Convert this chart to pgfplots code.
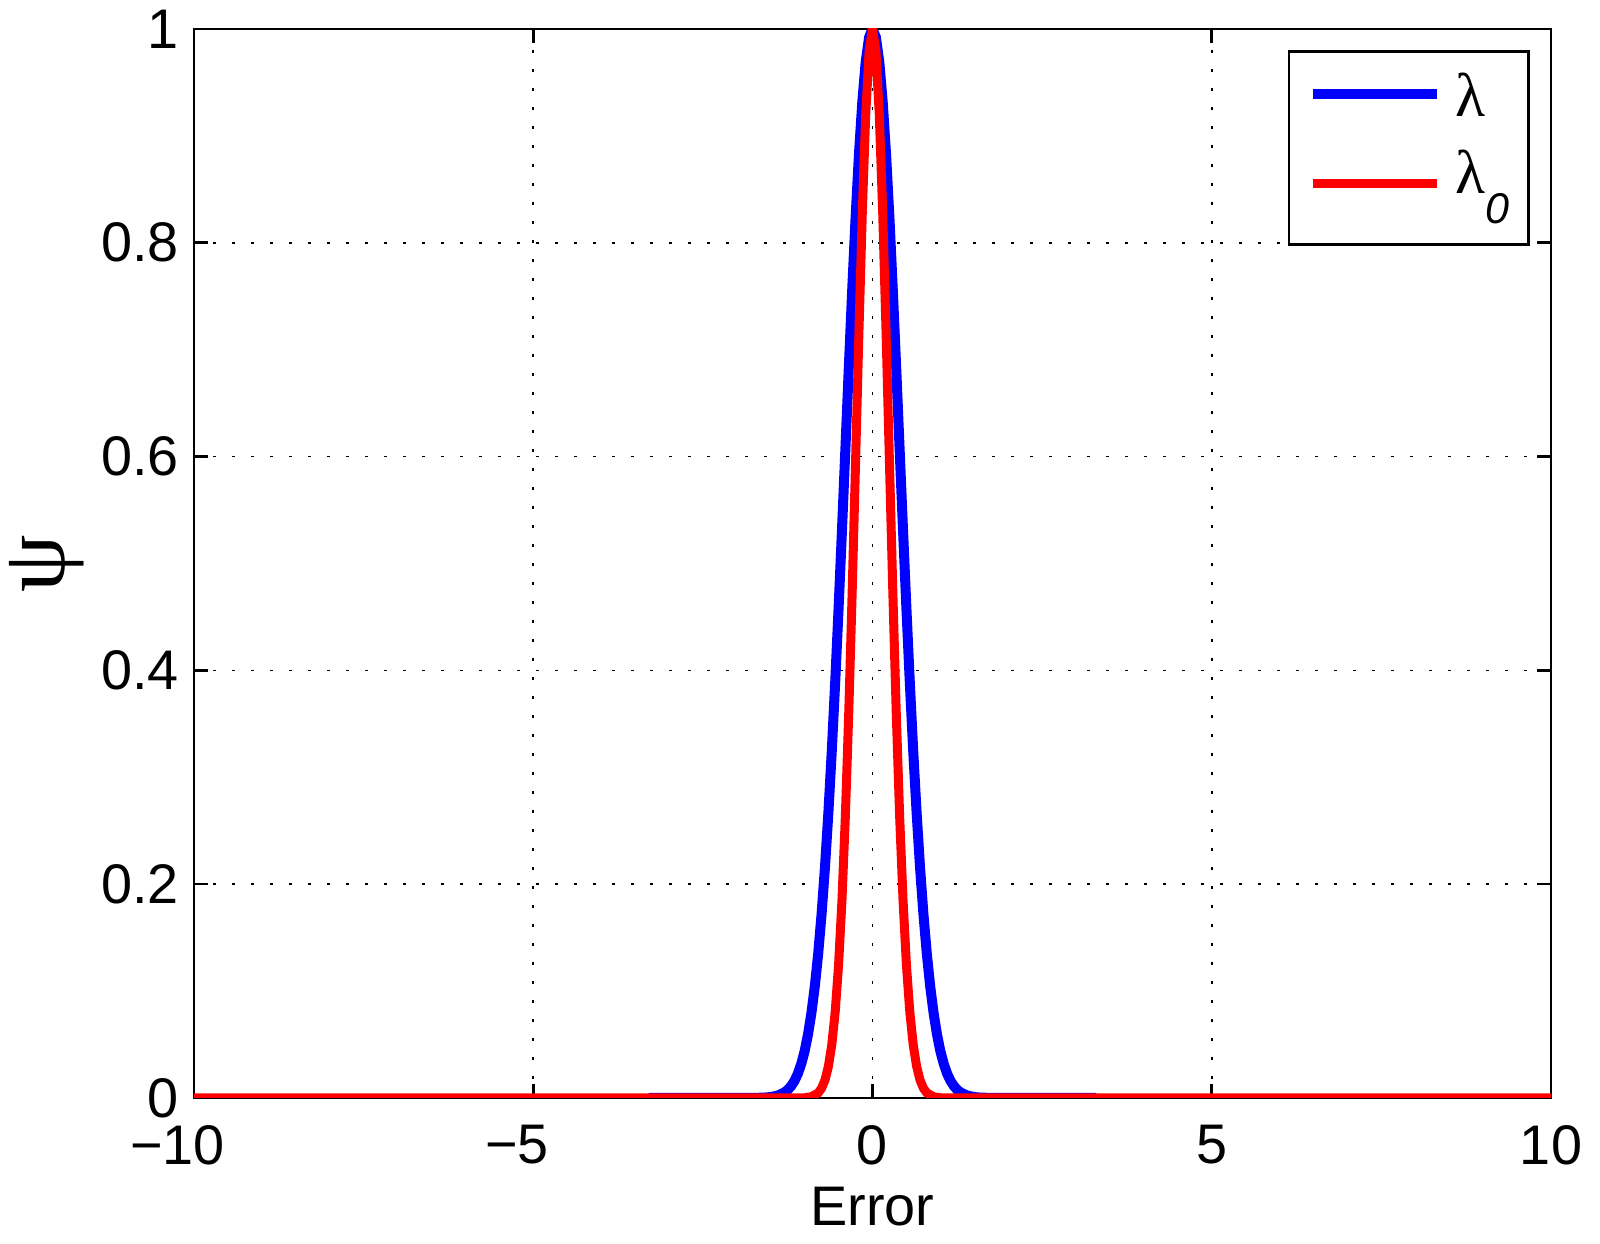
\documentclass[border=0pt]{standalone}
\usepackage{fontspec}
\setmainfont{Liberation Sans}
\newfontfamily\serifgr{Liberation Serif}
\usepackage{pgfplots}
\pgfplotsset{compat=1.18}
\pgfplotsset{
  leglineA/.style={legend image code/.code={\draw[##1] (0bp,11bp) -- (62bp,11bp);}},
  leglineB/.style={legend image code/.code={\draw[##1] (0bp,5bp) -- (62bp,5bp);}},
}
\begin{document}
\begin{tikzpicture}
\useasboundingbox (-97bp,-73bp) rectangle (703bp,549bp);
\begin{axis}[
  at={(0,0)}, anchor=south west,
  scale only axis, width=678.5bp, height=534.5bp,
  xmin=-10, xmax=10, ymin=0, ymax=1,
  xtick={-10,-5,0,5,10}, xticklabels={\llap{−}10,\llap{−}5,0,5,10},
  ytick={0,0.2,0.4,0.6,0.8,1}, yticklabels={0,0.2,0.4,0.6,0.8,1},
  /pgf/number format/assume math mode=true,
  tick align=inside, major tick length=7bp,
  tick style={line width=1.3bp, black},
  axis line style={line width=1.3bp, black},
  xtick pos=both, ytick pos=both,
  grid=major,
  grid style={line width=0.8bp, black, dash pattern=on 1.5bp off 8bp},
  ticklabel style={font=\fontsize{28}{34}\selectfont, inner sep=0pt},
  xticklabel style={yshift=-13.5bp},
  yticklabel style={xshift=-7.5bp},
  xlabel={Error},
  xlabel style={font=\fontsize{28}{34}\selectfont, at={(axis description cs:0.5,0)}, anchor=center, yshift=-54.25bp},
  ylabel={\serifgr ψ},
  ylabel style={font=\fontsize{46}{50}\selectfont, inner sep=0pt, at={(axis description cs:-0.1083,0.5)}, anchor=center},
  legend style={at={(1,1)}, anchor=north east, xshift=-10.5bp, yshift=-10.5bp,
    draw=black, line width=1.3bp, inner xsep=9.5bp, inner ysep=10bp,
    nodes={inner sep=0pt, text height=22.5bp, text depth=15.5bp, anchor=base west},
    /tikz/column sep=7bp, /tikz/row sep=0.5bp},
  legend cell align=left,
]
\addplot[blue, line width=5bp, leglineA] coordinates {
(-3.3,0) (-1.8,0.00004) (-1.6,0.00034) (-1.5,0.00088) (-1.4,0.00219) (-1.3,0.00508) (-1.25,0.00758)
(-1.2,0.0111) (-1.15,0.0160) (-1.1,0.0228) (-1.05,0.0319) (-1.0,0.0439) (-0.95,0.0596) (-0.9,0.0796)
(-0.85,0.1046) (-0.8,0.1353) (-0.75,0.1724) (-0.7,0.2163) (-0.65,0.2671) (-0.6,0.3247) (-0.55,0.3886)
(-0.5,0.4578) (-0.45,0.5311) (-0.4,0.6065) (-0.35,0.6820) (-0.3,0.7548) (-0.25,0.8226) (-0.2,0.8825)
(-0.15,0.9321) (-0.1,0.9692) (-0.05,0.9922) (0,1)
(0.05,0.9922) (0.1,0.9692) (0.15,0.9321) (0.2,0.8825) (0.25,0.8226) (0.3,0.7548) (0.35,0.6820)
(0.4,0.6065) (0.45,0.5311) (0.5,0.4578) (0.55,0.3886) (0.6,0.3247) (0.65,0.2671) (0.7,0.2163)
(0.75,0.1724) (0.8,0.1353) (0.85,0.1046) (0.9,0.0796) (0.95,0.0596) (1.0,0.0439) (1.05,0.0319)
(1.1,0.0228) (1.15,0.0160) (1.2,0.0111) (1.25,0.00758) (1.3,0.00508) (1.4,0.00219) (1.5,0.00088)
(1.6,0.00034) (1.8,0.00004) (3.3,0)
};
\addlegendentry{\fontsize{31}{34}\serifgr λ}
\addplot[red, line width=4.5bp, leglineB] coordinates {
(-10,0) (-1.1,0.00004) (-1.0,0.00024) (-0.9,0.00117) (-0.8,0.0048) (-0.75,0.0092) (-0.7,0.0169)
(-0.65,0.0296) (-0.6,0.0498) (-0.55,0.0804) (-0.5,0.1245) (-0.45,0.1850) (-0.4,0.2636) (-0.35,0.3603)
(-0.3,0.4724) (-0.25,0.5940) (-0.2,0.7165) (-0.15,0.8290) (-0.1,0.9200) (-0.05,0.9794) (0,1)
(0.05,0.9794) (0.1,0.9200) (0.15,0.8290) (0.2,0.7165) (0.25,0.5940) (0.3,0.4724) (0.35,0.3603)
(0.4,0.2636) (0.45,0.1850) (0.5,0.1245) (0.55,0.0804) (0.6,0.0498) (0.65,0.0296) (0.7,0.0169)
(0.75,0.0092) (0.8,0.0048) (0.9,0.00117) (1.0,0.00024) (1.1,0.00004) (10,0)
};
\addlegendentry{{\fontsize{31}{34}\serifgr λ}\raisebox{-15bp}{\fontsize{21.6}{24}\itshape 0}}
\end{axis}
\end{tikzpicture}
\end{document}
